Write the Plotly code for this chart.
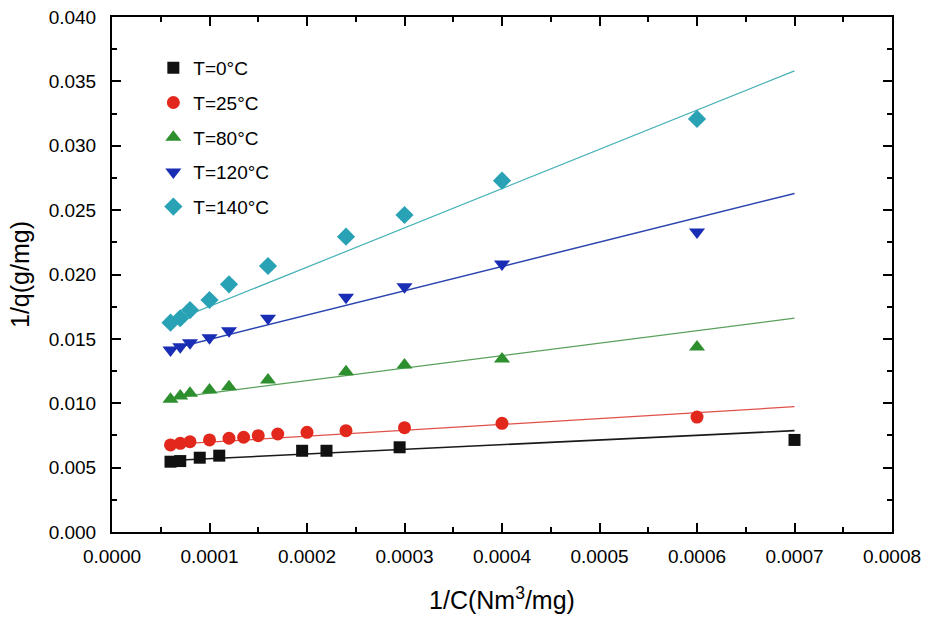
import numpy as np
import plotly.graph_objects as go

# ---- data ----
names = ["T=0°C", "T=25°C", "T=80°C", "T=120°C", "T=140°C"]

x_0 = [0.00006, 0.00007, 0.00009, 0.00011, 0.000195, 0.00022, 0.000295, 0.0007]
y_0 = [0.00546, 0.00551, 0.00577, 0.00593, 0.00631, 0.00631, 0.00658, 0.00715]

x_25 = [0.00006, 0.00007, 0.00008, 0.0001, 0.00012, 0.000135, 0.00015, 0.00017,
        0.0002, 0.00024, 0.0003, 0.0004, 0.0006]
y_25 = [0.00676, 0.00689, 0.00701, 0.00715, 0.00728, 0.00736, 0.00748, 0.00761,
        0.00774, 0.00787, 0.0081, 0.00844, 0.00893]

x_80 = [0.00006, 0.00007, 0.00008, 0.0001, 0.00012, 0.00016, 0.00024, 0.0003, 0.0004, 0.0006]
y_80 = [0.01031, 0.01056, 0.01077, 0.01103, 0.01129, 0.01181, 0.01245, 0.01297, 0.01344, 0.01437]

x_120 = [0.00006, 0.00007, 0.00008, 0.0001, 0.00012, 0.00016, 0.00024, 0.0003, 0.0004, 0.0006]
y_120 = [0.01414, 0.01439, 0.0147, 0.01509, 0.01563, 0.0166, 0.01823, 0.01905, 0.02082, 0.0233]

x_140 = [0.00006, 0.00007, 0.00008, 0.0001, 0.00012, 0.00016, 0.00024, 0.0003, 0.0004, 0.0006]
y_140 = [0.01626, 0.0166, 0.01724, 0.01802, 0.01924, 0.02066, 0.02294, 0.02462, 0.02729, 0.03208]

# linear fit lines as drawn in the reference (slope, intercept), over this x span
fit_slope = [3.63, 4.58, 9.7, 18.9, 30.5]
fit_intercept = [0.00533, 0.006525, 0.009818, 0.013066, 0.01447]
fit_range = [0.00006, 0.0007]

xs = [x_0, x_25, x_80, x_120, x_140]
ys = [y_0, y_25, y_80, y_120, y_140]

# ---- styles ----
marker_colors = ["#111111", "#e2281c", "#2e8f2e", "#1a2db5", "#2aa2b5"]
line_colors = ["#1a1a1a", "#e0504a", "#5aa05a", "#2a45b0", "#45b0b5"]
line_widths = [1.6, 1.2, 1.2, 1.5, 1.2]
symbols = ["square", "circle", "triangle-up", "triangle-down", "diamond"]
sizes = [12, 13, 14, 14, 14]

fig = go.Figure()
for i in range(5):
    fx = np.array(fit_range)
    fig.add_trace(go.Scatter(
        x=fx, y=fit_slope[i] * fx + fit_intercept[i], mode="lines",
        line=dict(color=line_colors[i], width=line_widths[i]),
        showlegend=False, legendgroup=f"g{i}", hoverinfo="skip"))
    fig.add_trace(go.Scatter(
        x=xs[i], y=ys[i], mode="markers", name=names[i], legendgroup=f"g{i}",
        marker=dict(symbol=symbols[i], size=sizes[i], color=marker_colors[i],
                    line=dict(width=0))))

font = "Liberation Sans, Arial, Helvetica, sans-serif"
axis_common = dict(
    showline=True, linecolor="black", linewidth=2, mirror="allticks",
    ticks="inside", ticklen=9, tickwidth=2, tickcolor="black",
    showgrid=False, zeroline=False, automargin=False,
    tickfont=dict(family=font, size=19, color="black"),
)

fig.update_xaxes(
    range=[0, 0.0008], dtick=0.0001, tick0=0, tickformat=".4f",
    minor=dict(ticks="inside", ticklen=5, tickwidth=1.5, tickcolor="black", dtick=0.00005),
    title=dict(text="1/C(Nm<sup>3</sup>/mg)", font=dict(family=font, size=25, color="black"),
               standoff=26),
    ticklabelstandoff=6,
    **axis_common)
fig.update_yaxes(
    range=[0, 0.04], dtick=0.005, tick0=0, tickformat=".3f",
    minor=dict(ticks="inside", ticklen=5, tickwidth=1.5, tickcolor="black", dtick=0.0025),
    title=dict(text="1/q(g/mg)", font=dict(family=font, size=25, color="black"), standoff=12),
    ticklabelstandoff=10,
    **axis_common)

fig.update_layout(
    width=926, height=619,
    margin=dict(l=112, r=34, t=17, b=87),
    paper_bgcolor="white", plot_bgcolor="white",
    font=dict(family=font, color="black"),
    legend=dict(x=0.053, y=0.938, xanchor="left", yanchor="top",
                bgcolor="rgba(0,0,0,0)", borderwidth=0,
                font=dict(family=font, size=19, color="black"),
                traceorder="grouped", tracegroupgap=7),
    showlegend=True,
)

fig.write_html("out.html")
